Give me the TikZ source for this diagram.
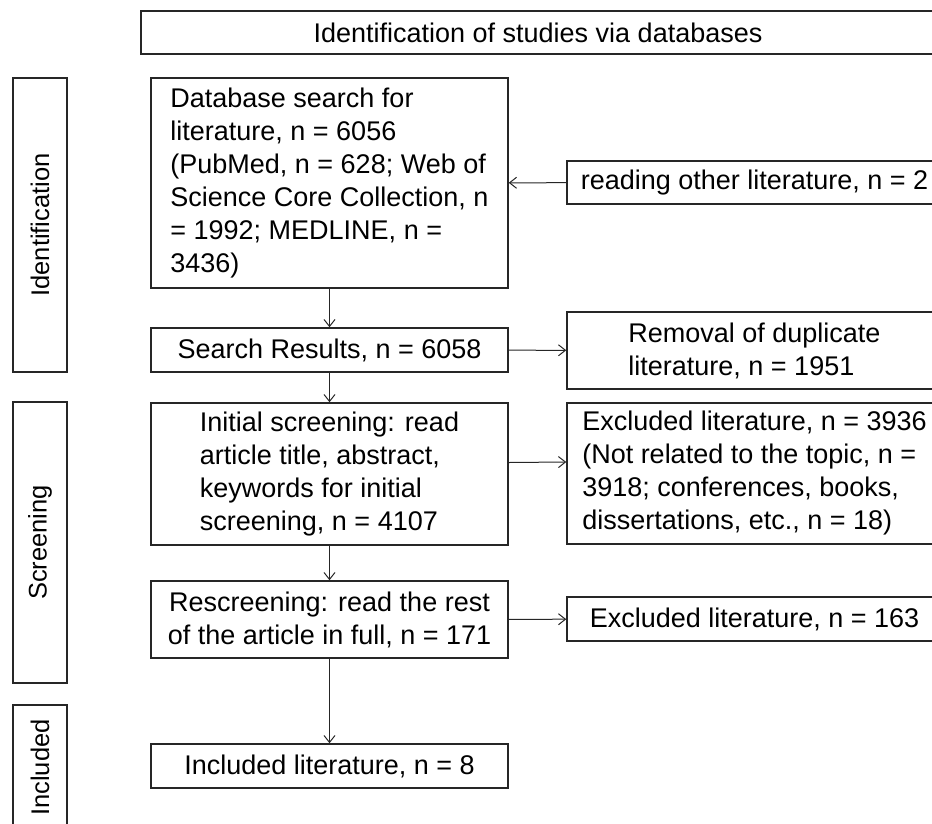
\documentclass[tikz,border=0pt]{standalone}
\usepackage{fontspec}
\setmainfont{Liberation Sans}
\usetikzlibrary{arrows.meta}
\begin{document}
\begin{tikzpicture}[x=1pt,y=-1pt,
  box/.style={draw=black!85, line width=1.5pt, inner sep=0pt, align=left,
    font=\fontsize{27}{33}\selectfont, text=black},
  cbox/.style={box, align=center},
  side/.style={draw=black!85, line width=1.5pt, inner sep=0pt, rotate=90,
    minimum height=54pt, font=\fontsize{25.5}{30}\selectfont, text=black},
  arr/.style={draw=black!85, line width=1pt, -{Straight Barb[length=7pt,width=11pt]}}]
\path[use as bounding box, clip] (0,0) rectangle (932,823);
% title
\node[cbox, minimum width=794pt, minimum height=43pt] (title) at (538,32.5) {Identification of studies via databases};
% sidebar
\node[side, minimum width=294pt] (sid) at (40,225) {Identification};
\node[side, minimum width=281pt] (sscr) at (40,542.5) {Screening};
\node[side, minimum width=125pt] (sinc) at (40,767.5) {Included};
% main column
\node[box, minimum width=357pt, minimum height=210pt] (db) at (329.5,183)
  {Database search for\\literature, n = 6056\\(PubMed, n = 628; Web of\\Science Core Collection, n\\= 1992; MEDLINE, n =\\3436)};
\node[cbox, minimum width=357pt, minimum height=44pt] (search) at (329.5,350) {Search Results, n = 6058};
\node[box, minimum width=357pt, minimum height=142pt] (init) at (329.5,474)
  {Initial screening: read\\article title, abstract,\\keywords for initial\\screening, n = 4107};
\node[cbox, minimum width=357pt, minimum height=77pt] (rescr) at (329.5,619.5)
  {Rescreening: read the rest\\of the article in full, n = 171};
\node[cbox, minimum width=357pt, minimum height=44pt] (incl) at (329.5,766) {Included literature, n = 8};
% right column
\node[cbox, minimum width=375pt, minimum height=43pt] (other) at (754.5,182.5) {reading other literature, n = 2};
\node[box, minimum width=375pt, minimum height=77pt] (dup) at (754.5,350.5) {Removal of duplicate\\literature, n = 1951};
\node[box, minimum width=375pt, minimum height=141pt] (exc1) at (754.5,473.5)
  {Excluded literature, n = 3936\\(Not related to the topic, n =\\3918; conferences, books,\\dissertations, etc., n = 18)};
\node[cbox, minimum width=375pt, minimum height=44pt] (exc2) at (754.5,619) {Excluded literature, n = 163};
% connectors
\draw[arr] (db) -- (search);
\draw[arr] (other) -- (db);
\draw[arr] (search) -- (dup);
\draw[arr] (search) -- (init);
\draw[arr] ([yshift=11.5pt]init.east) -- ([yshift=11.5pt]exc1.west);
\draw[arr] (init) -- (rescr);
\draw[arr] (rescr) -- (exc2);
\draw[arr] (rescr) -- (incl);
\end{tikzpicture}
\end{document}
